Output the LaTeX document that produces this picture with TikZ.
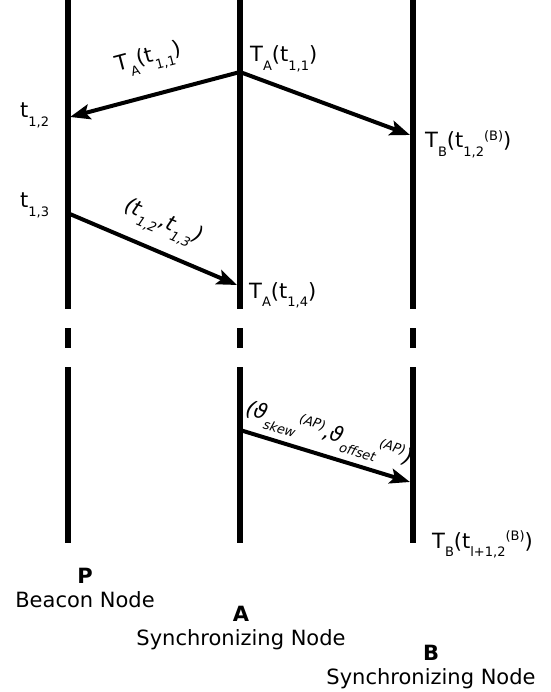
\documentclass[tikz,border=0pt]{standalone}
\usepackage{fontspec}
\setmainfont{DejaVu Sans}
\usetikzlibrary{arrows.meta,positioning}
\newcommand\lo[1]{\raisebox{-0.4em}{\fontsize{13}{13}\selectfont #1}}
\newcommand\hi[1]{\raisebox{0.35em}{\fontsize{13}{13}\selectfont #1}}
\newcommand\lblfont{\fontsize{21}{25}\selectfont}

\begin{document}
\begin{tikzpicture}[x=1pt,y=-1pt,
  life/.style={line width=6pt},
  msg/.style={line width=4pt,-{Stealth[length=20pt,width=15pt,inset=4pt]}},
  lbl/.style={font=\lblfont,inner sep=0pt},
  who/.style={font=\lblfont\bfseries,inner sep=0pt,anchor=base},
  role/.style={font=\lblfont,inner sep=0pt},
  ]
  \useasboundingbox (0,0) rectangle (550,692);

  % message end points
  \coordinate (a1) at (240,72);
  \coordinate (p2) at (70,117);
  \coordinate (b2) at (410,135);
  \coordinate (p3) at (67.5,213);
  \coordinate (a4) at (237,285);
  \coordinate (a5) at (240,430);
  \coordinate (b5) at (410,482);

  \draw[msg] (a1) -- node[lbl,sloped,above=20pt,pos=0.48] (mA)
    {T\lo{A}(t\lo{1,1})} (p2);
  \draw[msg] (a1) -- (b2);
  \draw[msg] (p3) -- node[lbl,sloped,above=12pt,pos=0.5,font=\lblfont\itshape] (mT)
    {(t\lo{1,2}\kern1pt,t\lo{1,3}\kern1pt)} (a4);
  \draw[msg] (a5) -- node[lbl,sloped,above=6pt,pos=0.485,font=\lblfont\itshape] (mTh)
    {(ϑ\lo{skew}\hi{(AP)},ϑ\lo{offset}\hi{(AP)})} (b5);

  % time stamps
  \node[lbl,anchor=base west] (tA1) at (250,62) {T\lo{A}(t\lo{1,1})};
  \node[lbl,anchor=base west] (t12) at (20,118) {t\lo{1,2}};
  \node[lbl,anchor=base west] (tB2) at (425,148) {T\lo{B}(t\lo{1,2}\hi{(B)})};
  \node[lbl,anchor=base west] (t13) at (20,208) {t\lo{1,3}};
  \node[lbl,anchor=base west] (tA4) at (249,298) {T\lo{A}(t\lo{1,4})};
  \node[lbl,anchor=base west] (tBl) at (432,548) {T\lo{B}(t\lo{l+1,2}\hi{(B)})};

  % node names
  \node[who] (tP) at (85,583) {P};
  \node[role,below=8pt of tP] (nP) {Beacon Node};
  \node[who] (tA) at (241,621) {A};
  \node[role,below=8pt of tA] (nA) {Synchronizing Node};
  \node[who] (tB) at (431,660) {B};
  \node[role,below=8pt of tB] (nB) {Synchronizing Node};

  % life lines
  \foreach \n/\x in {P/67.5,A/240,B/412.5}{
    \draw[life] (\x,0) -- (\x,309);
    \draw[life] (\x,328) -- (\x,348);
    \draw[life] (\x,367) -- (\x,543);
  }
\end{tikzpicture}
\end{document}
